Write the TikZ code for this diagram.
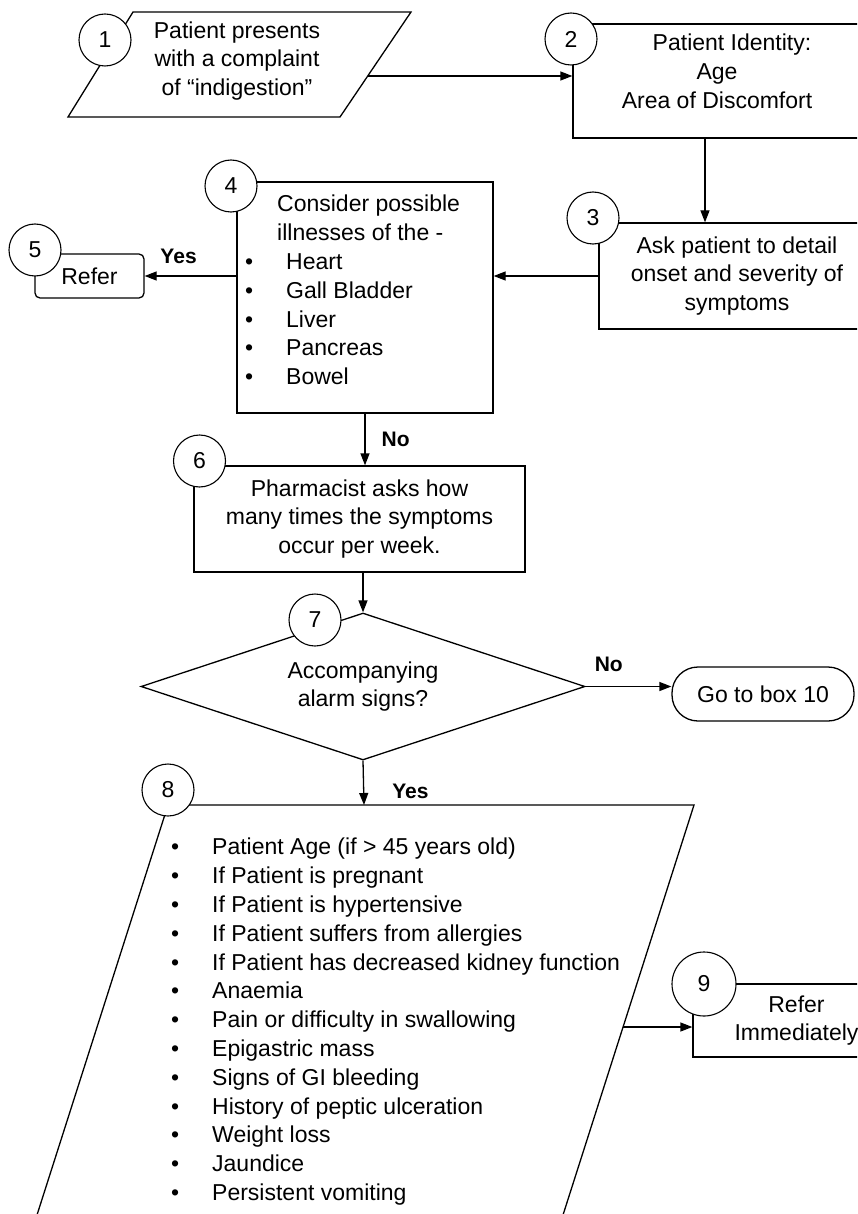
\documentclass[tikz,border=0pt]{standalone}
\usepackage{fontspec}
\setmainfont{Liberation Sans}
\usetikzlibrary{arrows.meta, positioning, shapes.geometric, calc}

\newcommand{\blt}{\makebox[41pt][l]{\textbullet}}

\begin{document}
\begin{tikzpicture}[x=1pt, y=-1pt,
    every node/.style={font=\fontsize{23pt}{28.8pt}\selectfont},
    proc/.style={draw, line width=1.3pt, inner sep=0pt, align=center},
    term/.style={proc, rounded corners=5pt},
    stad/.style={proc, rounded corners=26pt},
    decide/.style={draw, diamond, aspect=3, line width=1.3pt, inner sep=0pt, align=center},
    num/.style={draw, circle, fill=white, line width=1.1pt, minimum size=52pt, inner sep=0pt},
    txt/.style={align=center, inner sep=0pt},
    lbl/.style={font=\fontsize{21pt}{24pt}\selectfont\bfseries, inner sep=2pt},
    arr/.style={-{Triangle[length=12pt, width=9pt]}, line width=1.3pt},
    shp/.style={line width=1.3pt, line join=miter}
]
\useasboundingbox (0,0) rectangle (857,1214);
\clip (0,0) rectangle (857,1214);

% Top row: boxes 1 and 2
\draw[shp] (133,12) -- (411,12) -- (340,117) -- (68,117) -- cycle;
\node[txt] (t1) at (237,61) {Patient presents\\with a complaint\\of “indigestion”};
\coordinate (o1) at (368,76);
\node[proc, minimum width=307pt, minimum height=114pt] (b2) at (726.5,81) {};
\node[txt] (t2) at (717,71) {\hspace*{30pt}Patient Identity:\\Age\\Area of Discomfort};

% Second row: boxes 3, 4 and 5
\node[proc, minimum width=276pt, minimum height=106pt] (b3) at (737,276) {Ask patient to detail\\onset and severity of\\symptoms};
\node[proc, minimum width=256pt, minimum height=231pt] (b4) at (365,297.5) {};
\node[txt, align=left, anchor=north west] (t4) at (245,195) {\hspace*{32pt}Consider possible\\
    \hspace*{32pt}illnesses of the -\\
    \blt Heart\\
    \blt Gall Bladder\\
    \blt Liver\\
    \blt Pancreas\\
    \blt Bowel};
\node[term, minimum width=109pt, minimum height=44pt] (b5) at (89.5,276) {Refer};

% Box 6 and decision 7
\node[proc, minimum width=331pt, minimum height=106pt] (b6) at (359.5,519) {Pharmacist asks how\\many times the symptoms\\occur per week.};
\node[decide, minimum width=444pt, minimum height=147pt] (d7) at (363,686.5) {Accompanying\\alarm signs?};
\node[stad, minimum width=182pt, minimum height=54pt] (g10) at (763,694) {Go to box 10};

% Box 8 (alarm signs) and box 9
\draw[shp] (168,805) -- (694,805) -- (555,1240) -- (29,1240) -- cycle;
\coordinate (i8) at (364,805);
\coordinate (o8) at (623,1027);
\node[txt, align=left, anchor=north west] (t8) at (171,838) {\blt Patient Age (if > 45 years old)\\
    \blt If Patient is pregnant\\
    \blt If Patient is hypertensive\\
    \blt If Patient suffers from allergies\\
    \blt If Patient has decreased kidney function\\
    \blt Anaemia\\
    \blt Pain or difficulty in swallowing\\
    \blt Epigastric mass\\
    \blt Signs of GI bleeding\\
    \blt History of peptic ulceration\\
    \blt Weight loss\\
    \blt Jaundice\\
    \blt Persistent vomiting};
\node[proc, minimum width=207pt, minimum height=73pt] (b9) at (796.5,1020.5) {Refer\\Immediately};

% Connectors
\draw[arr] (o1) -- (o1 -| b2.west);
\draw[arr] ([xshift=-21.5pt]b2.south) -- ([xshift=-21.5pt]b2.south |- b3.north);
\draw[arr] (b3.west) -- (b3.west -| b4.east);
\draw[arr] (b5.east -| b4.west) -- node[lbl, above=10pt, pos=0.63] {Yes} (b5.east);
\draw[arr] (b4.south) -- node[lbl, right=14pt] {No} (b4.south |- b6.north);
\draw[arr] (d7.north |- b6.south) -- (d7.north);
\draw[arr] (d7.east) -- node[lbl, above=12pt, pos=0.27] {No} (d7.east -| g10.west);
\draw[arr] (d7.south) -- node[lbl, right=26pt, pos=0.7] {Yes} (i8);
\draw[arr] (o8) -- (o8 -| b9.west);

% Numbered circles
\node[num] (n1) at (105,40) {1};
\node[num] (n2) at (571,39) {2};
\node[num] (n3) at (593,218) {3};
\node[num] (n4) at (231,186) {4};
\node[num] (n5) at (35,250) {5};
\node[num] (n6) at (199.5,461) {6};
\node[num] (n7) at (315,620) {7};
\node[num] (n8) at (168,790) {8};
\node[num, minimum size=64pt] (n9) at (704,984) {9};
\end{tikzpicture}
\end{document}
